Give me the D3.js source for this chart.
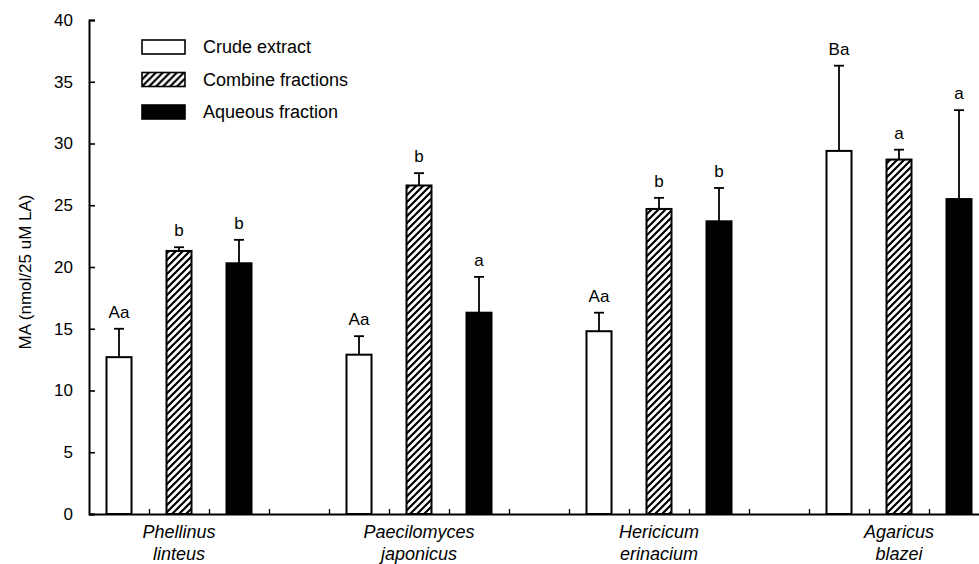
<!DOCTYPE html>
<html>
<head>
<meta charset="utf-8">
<script src="https://cdn.jsdelivr.net/npm/d3@7"></script>
<style>
  body { margin: 0; background: #fff; }
  text { font-family: Arial, "Liberation Sans", sans-serif; fill: #000; }
</style>
</head>
<body>
<svg id="chart" width="979" height="564"></svg>
<script>
// data
const species = [["Phellinus", "linteus"], ["Paecilomyces", "japonicus"], ["Hericicum", "erinacium"], ["Agaricus", "blazei"]]
const fractions = ["Crude extract", "Combine fractions", "Aqueous fraction"]
const crude = [12.7, 12.9, 14.8, 29.4]
const crudeErr = [2.3, 1.5, 1.5, 6.9]
const combine = [21.3, 26.6, 24.7, 28.7]
const combineErr = [0.3, 1.0, 0.9, 0.8]
const aqueous = [20.3, 16.3, 23.7, 25.5]
const aqueousErr = [1.9, 2.9, 2.7, 7.2]
const crudeLetters = ["Aa", "Aa", "Aa", "Ba"]
const combineLetters = ["b", "b", "b", "a"]
const aqueousLetters = ["b", "a", "b", "a"]
const yTicks = [0, 5, 10, 15, 20, 25, 30, 35, 40]

const svg = d3.select("#chart")
const x0 = 89, x1 = 1049, yBottom = 514, yTop = 20
const barW = 25

// scales
const y = d3.scaleLinear().domain([0, 40]).range([yBottom, yTop])
const group = d3.scaleBand().domain(d3.range(species.length)).range([x0, x1])
const inner = d3.scaleBand().domain(d3.range(4)).range([0, group.bandwidth()])
const slots = d3.scaleLinear().domain([0, 16]).range([x0, x1])

// hatch for the combined fractions
const defs = svg.append("defs")
defs.append("pattern")
    .attr("id", "hatch")
    .attr("patternUnits", "userSpaceOnUse")
    .attr("width", 7).attr("height", 7)
  .append("path")
    .attr("d", "M-1,1 L1,-1 M0,7 L7,0 M6,8 L8,6")
    .attr("stroke", "#000")
    .attr("stroke-width", 2.2)

const series = [
  {vals: crude, errs: crudeErr, letters: crudeLetters, fill: "#fff"},
  {vals: combine, errs: combineErr, letters: combineLetters, fill: "url(#hatch)"},
  {vals: aqueous, errs: aqueousErr, letters: aqueousLetters, fill: "#000"}
]

const cx = (i, j) => group(i) + inner(j) + inner.bandwidth() / 2

// bars, error bars and letters
series.forEach((s, j) => {
  const g = svg.append("g")
  s.vals.forEach((v, i) => {
    const c = cx(i, j)
    const top = y(v + s.errs[i])
    g.append("line")
        .attr("x1", c).attr("x2", c)
        .attr("y1", y(v)).attr("y2", top)
        .attr("stroke", "#000").attr("stroke-width", 1.8)
    g.append("line")
        .attr("x1", c - 5).attr("x2", c + 5)
        .attr("y1", top).attr("y2", top)
        .attr("stroke", "#000").attr("stroke-width", 1.8)
    g.append("rect")
        .attr("x", c - barW / 2)
        .attr("y", y(v))
        .attr("width", barW)
        .attr("height", yBottom - y(v))
        .attr("fill", s.fill)
        .attr("stroke", "#000")
        .attr("stroke-width", 2)
    g.append("text")
        .attr("x", c)
        .attr("y", top - 11)
        .attr("text-anchor", "middle")
        .style("font-size", "17px")
        .text(s.letters[i])
  })
})

// y axis, ticks pointing inward
const yAxis = svg.append("g")
    .attr("transform", `translate(${x0},0)`)
    .call(d3.axisLeft(y).tickValues(yTicks).tickSize(-6).tickPadding(16))
yAxis.select(".domain").attr("stroke-width", 2)
yAxis.selectAll(".tick line").attr("stroke-width", 1.6)
yAxis.selectAll(".tick text")
    .style("font-size", "17px")
    .style("font-family", "Arial, 'Liberation Sans', sans-serif")

// x axis with small upward ticks between slots
const xAxis = svg.append("g")
    .attr("transform", `translate(0,${yBottom})`)
    .call(d3.axisBottom(slots).tickValues(d3.range(1, 16)).tickSize(-5).tickSizeOuter(0).tickFormat(""))
xAxis.select(".domain").attr("stroke-width", 2)
xAxis.selectAll(".tick line").attr("stroke-width", 1.4)

// group labels
species.forEach((names, i) => {
  names.forEach((n, k) => {
    svg.append("text")
        .attr("x", cx(i, 1))
        .attr("y", 538 + k * 22)
        .attr("text-anchor", "middle")
        .style("font-size", "18px")
        .style("font-style", "italic")
        .text(n)
  })
})

// y label
svg.append("text")
    .attr("transform", "translate(31,272) rotate(-90)")
    .attr("text-anchor", "middle")
    .style("font-size", "17px")
    .text("MA (nmol/25 uM LA)")

// legend
const legend = svg.append("g").attr("transform", "translate(142,47)")
fractions.forEach((f, j) => {
  const row = legend.append("g").attr("transform", `translate(0,${j * 32.5})`)
  row.append("rect")
      .attr("x", 0).attr("y", -7)
      .attr("width", 43).attr("height", 14)
      .attr("fill", series[j].fill)
      .attr("stroke", "#000")
      .attr("stroke-width", 1.6)
  row.append("text")
      .attr("x", 61)
      .attr("y", 6)
      .style("font-size", "18px")
      .text(f)
})
</script>
</body>
</html>
